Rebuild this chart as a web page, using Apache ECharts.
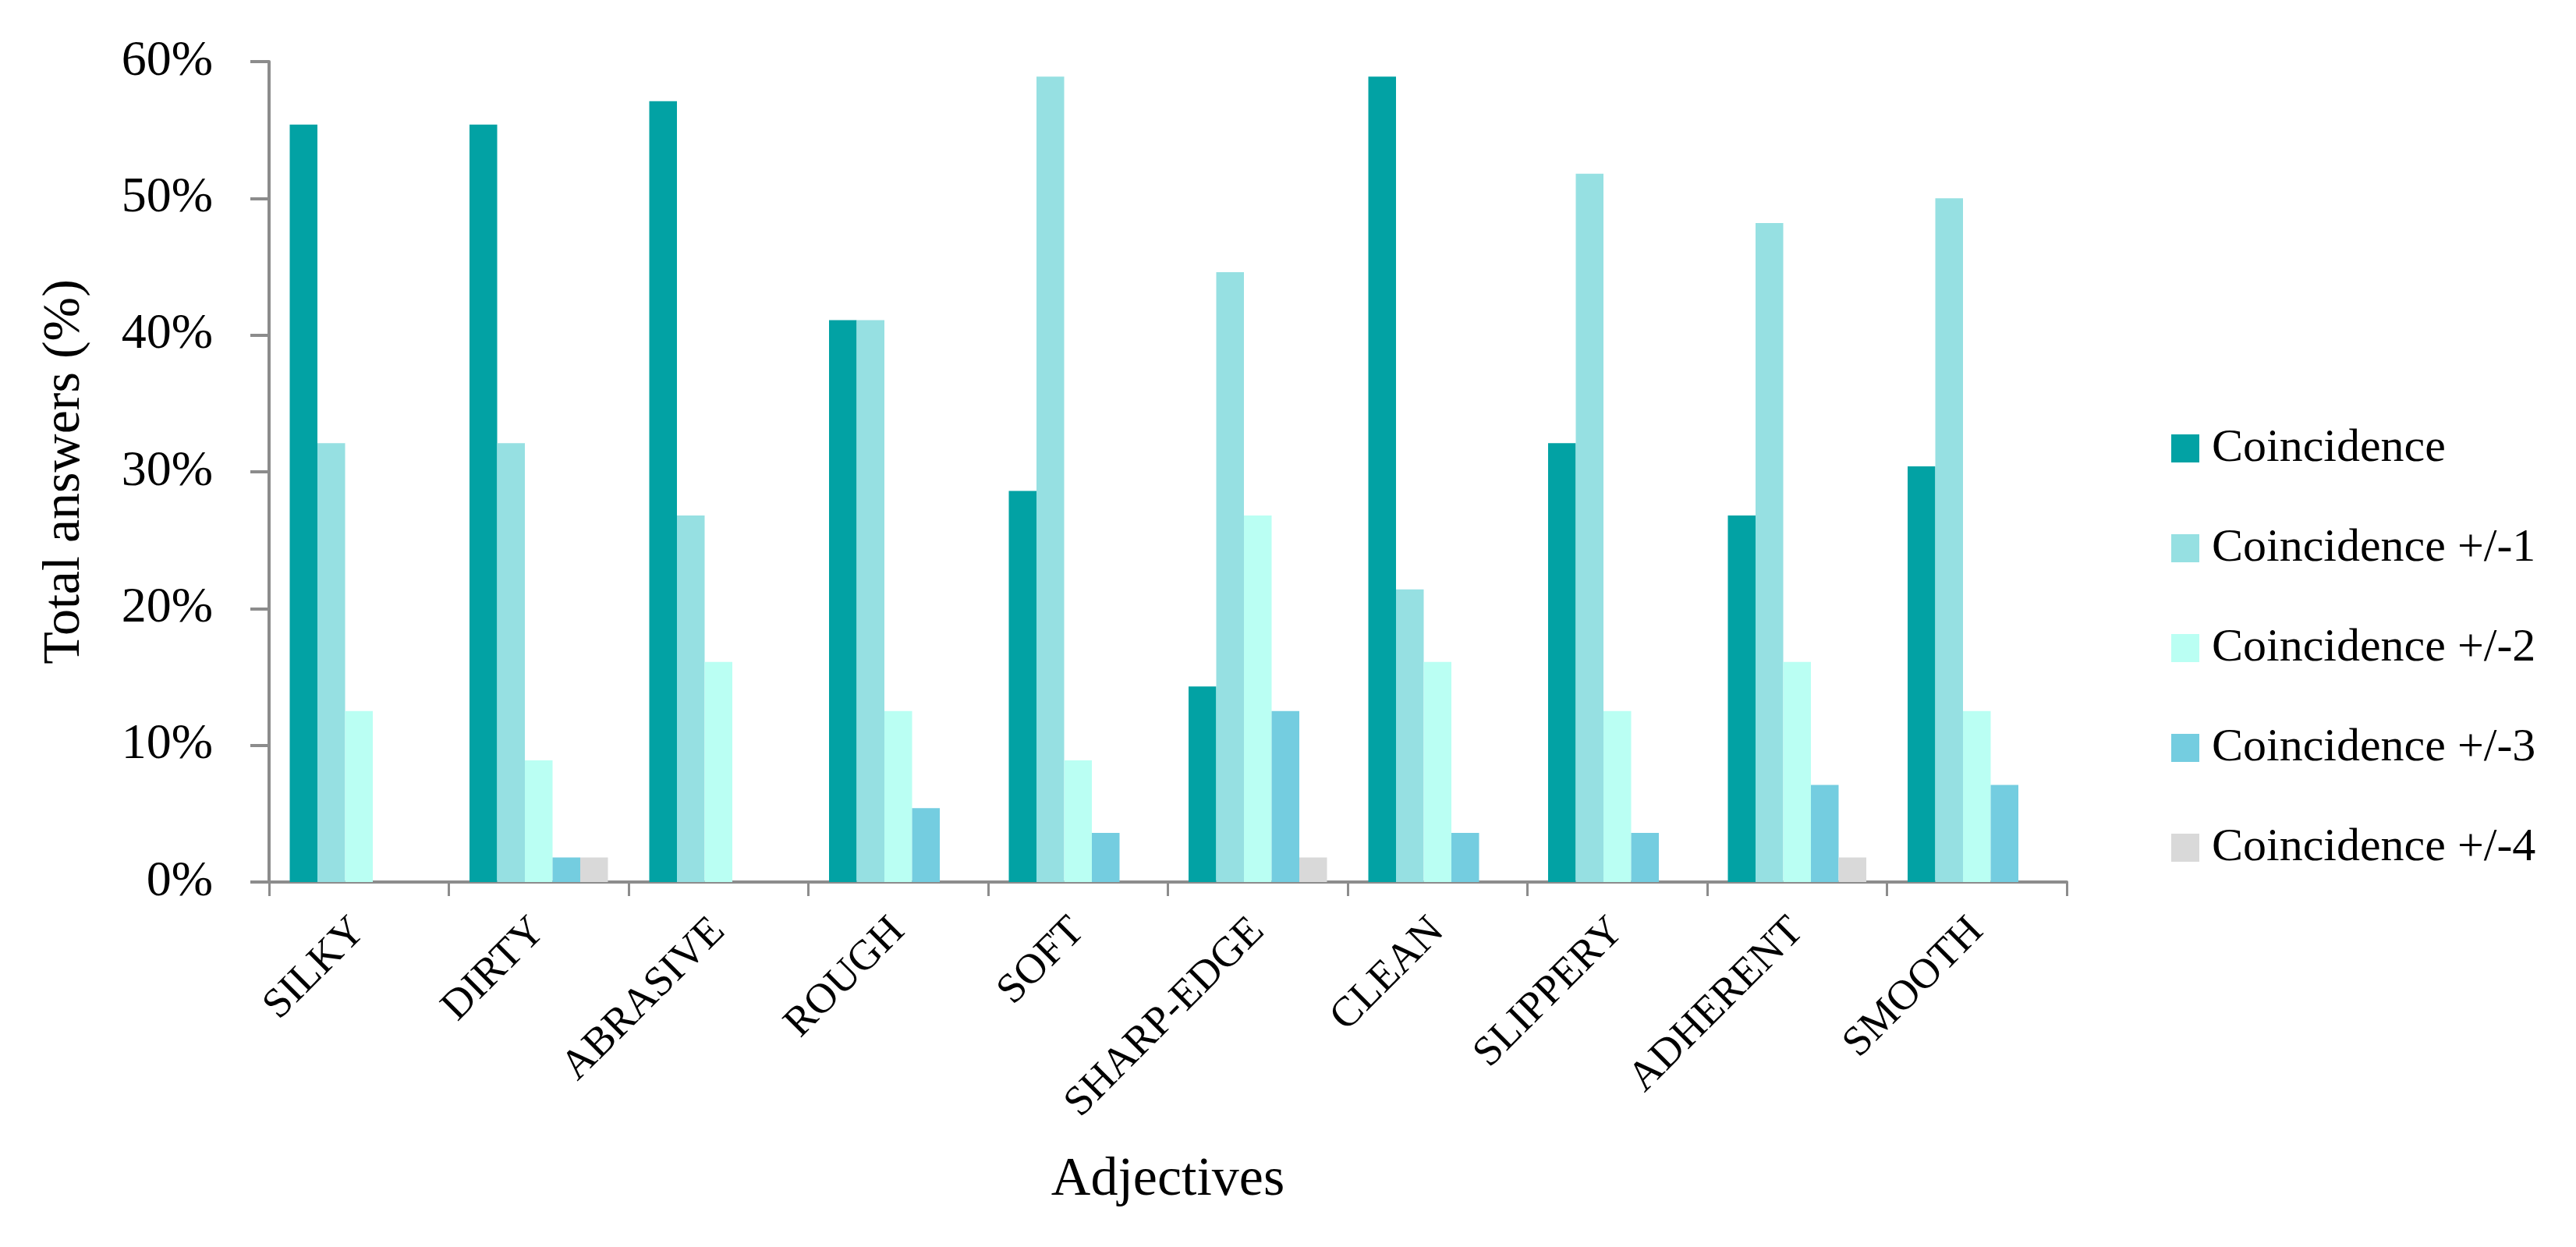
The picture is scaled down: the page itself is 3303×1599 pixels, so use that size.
<!DOCTYPE html>
<html>
<head>
<meta charset="utf-8">
<script src="https://cdn.jsdelivr.net/npm/echarts@6/dist/echarts.min.js"></script>
<style>
html,body{margin:0;padding:0;background:#fff;}
#chart{width:3303px;height:1599px;}
</style>
</head>
<body>
<div id="chart"></div>
<script>
const categories = ['SILKY','DIRTY','ABRASIVE','ROUGH','SOFT','SHARP-EDGE','CLEAN','SLIPPERY','ADHERENT','SMOOTH'];
const seriesNames = ['Coincidence','Coincidence +/-1','Coincidence +/-2','Coincidence +/-3','Coincidence +/-4'];
const coincidence  = [55.4, 55.4, 57.1, 41.1, 28.6, 14.3, 58.9, 32.1, 26.8, 30.4];
const coincidence1 = [32.1, 32.1, 26.8, 41.1, 58.9, 44.6, 21.4, 51.8, 48.2, 50.0];
const coincidence2 = [12.5,  8.9, 16.1, 12.5,  8.9, 26.8, 16.1, 12.5, 16.1, 12.5];
const coincidence3 = [ 0.0,  1.8,  0.0,  5.4,  3.6, 12.5,  3.6,  3.6,  7.1,  7.1];
const coincidence4 = [ 0.0,  1.8,  0.0,  0.0,  0.0,  1.8,  0.0,  0.0,  1.8,  0.0];
const yTicks = [0, 10, 20, 30, 40, 50, 60];
const colors = ['#02A2A4', '#96E0E2', '#BAFFF3', '#74CDE0', '#D9D9D9'];

const seriesData = [coincidence, coincidence1, coincidence2, coincidence3, coincidence4];
const axisColor = '#8C8C8C';
const font = '"Liberation Serif", "Times New Roman", serif';

const chart = echarts.init(document.getElementById('chart'));
chart.setOption({
  backgroundColor: '#ffffff',
  animation: false,
  color: colors,
  grid: { left: 345, right: 653, top: 79, bottom: 468 },
  legend: {
    orient: 'vertical',
    left: 2779,
    top: 540,
    itemWidth: 36,
    itemHeight: 36,
    itemGap: 68,
    icon: 'rect',
    textStyle: { fontFamily: font, fontSize: 60, color: '#000', lineHeight: 60, padding: [0,0,0,11] },
    data: seriesNames
  },
  xAxis: {
    type: 'category',
    data: categories,
    name: 'Adjectives',
    nameLocation: 'middle',
    nameGap: 348,
    nameTextStyle: { fontFamily: font, fontSize: 70, color: '#000' },
    axisLine: { lineStyle: { color: axisColor, width: 4 } },
    axisTick: { show: true, length: 18, lineStyle: { color: axisColor, width: 3 } },
    axisLabel: { interval: 0, rotate: 45, margin: 55, fontFamily: font, fontSize: 54, color: '#000' },
    splitLine: { show: false }
  },
  yAxis: {
    type: 'value',
    min: yTicks[0],
    max: yTicks[yTicks.length - 1],
    interval: yTicks[1] - yTicks[0],
    name: 'Total answers (%)',
    nameLocation: 'middle',
    nameGap: 228,
    nameTextStyle: { fontFamily: font, fontSize: 68, color: '#000' },
    axisLine: { show: true, lineStyle: { color: axisColor, width: 4 } },
    axisTick: { show: true, length: 24, lineStyle: { color: axisColor, width: 4 } },
    axisLabel: { formatter: '{value}%', margin: 72, fontFamily: font, fontSize: 64, color: '#000' },
    splitLine: { show: false }
  },
  series: seriesNames.map((name, i) => ({
    name: name,
    type: 'bar',
    data: seriesData[i],
    barWidth: 35.5,
    barGap: '0%',
    itemStyle: { color: colors[i] }
  }))
});
</script>
</body>
</html>
